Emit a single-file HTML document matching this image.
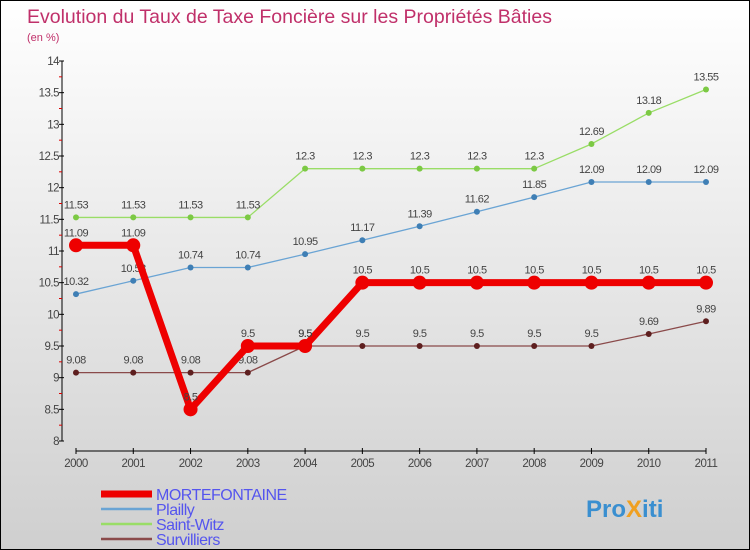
<!DOCTYPE html>
<html><head><meta charset="utf-8"><style>
body{margin:0;}
#c{width:750px;height:550px;position:relative;overflow:hidden;box-sizing:border-box;border:1px solid #000;background:linear-gradient(#ffffff,#cfcfcf);font-family:"Liberation Sans",sans-serif;}
svg text{font-family:"Liberation Sans",sans-serif;}
</style></head><body>
<div id="c">
<svg id="s" width="750" height="550">
<text x="26" y="22" font-size="19.5" fill="#c0306a">Evolution du Taux de Taxe Foncière sur les Propriétés Bâties</text>
<text x="26" y="40" font-size="11" fill="#c0306a">(en %)</text>
<g id="axes"></g><g id="series"></g><g id="legend"></g>
<text x="585" y="516" font-size="24" font-weight="bold" fill="#3a8fd0">Pro<tspan fill="#f0a020">X</tspan><tspan fill="#3a8fd0">iti</tspan></text>
</svg>
</div>
<script>
const years=["2000","2001","2002","2003","2004","2005","2006","2007","2008","2009","2010","2011"];
const yTicks=[8,8.5,9,9.5,10,10.5,11,11.5,12,12.5,13,13.5,14];
const names=["MORTEFONTAINE","Plailly","Saint-Witz","Survilliers"];
const mortefontaine=[11.09,11.09,8.5,9.5,9.5,10.5,10.5,10.5,10.5,10.5,10.5,10.5];
const plailly=[10.32,10.53,10.74,10.74,10.95,11.17,11.39,11.62,11.85,12.09,12.09,12.09];
const saintWitz=[11.53,11.53,11.53,11.53,12.3,12.3,12.3,12.3,12.3,12.69,13.18,13.55];
const survilliers=[9.08,9.08,9.08,9.08,9.5,9.5,9.5,9.5,9.5,9.5,9.69,9.89];
const NS="http://www.w3.org/2000/svg";
const X=i=>75+i*(630/(years.length-1));
const Y=v=>440-(v-8)*(380/6);
function mk(p,t,a){const e=document.createElementNS(NS,t);for(const k in a)e.setAttribute(k,a[k]);p.appendChild(e);return e;}
const ax=document.getElementById('axes');
let l=mk(ax,'line',{x1:61,y1:Y(14),x2:61,y2:Y(8),stroke:'#000'});


l=mk(ax,'line',{x1:75,y1:450,x2:705,y2:450,stroke:'#000'});


yTicks.forEach((v,i)=>{
  mk(ax,'line',{x1:58,y1:Y(v),x2:63,y2:Y(v),stroke:'#000'});
  if(i<yTicks.length-1)mk(ax,'line',{x1:58,y1:Y(v+0.25),x2:61,y2:Y(v+0.25),stroke:'#d00'});
  const t=mk(ax,'text',{x:58,y:Y(v)+4,'font-size':11.5,fill:'#444','text-anchor':'end','letter-spacing':'-0.5'});
  t.textContent=String(v);
  
  
});
years.forEach((y,i)=>{
  mk(ax,'line',{x1:X(i),y1:447,x2:X(i),y2:453,stroke:'#000'});
  const t=mk(ax,'text',{x:X(i),y:466,'font-size':11.5,fill:'#444','text-anchor':'middle','letter-spacing':'-0.5'});
  t.textContent=y;
  
  
});
const styles=[
 {d:mortefontaine,c:'#ee0000',m:'#ee0000',w:7,r:7,key:'mortefontaine'},
 {d:plailly,c:'#6aa4d4',m:'#3f7fb5',w:1.3,r:3,key:'plailly'},
 {d:saintWitz,c:'#99dd66',m:'#7cc944',w:1.3,r:3,key:'saint-witz'},
 {d:survilliers,c:'#8a4a4a',m:'#5e1f1f',w:1.3,r:3,key:'survilliers'}];
const sg=document.getElementById('series');
const order=[2,1,3,0];
order.forEach(k=>{const s=styles[k];
  const g=mk(sg,'g',{});
  
  
  const p=mk(g,'polyline',{points:s.d.map((v,i)=>X(i)+','+Y(v)).join(' '),fill:'none',stroke:s.c,'stroke-width':s.w,'stroke-linejoin':'round'});
  
  
  s.d.forEach((v,i)=>{
    const c=mk(g,'circle',{cx:X(i),cy:Y(v),r:s.r,fill:s.m});
    
    
    const t=mk(g,'text',{x:X(i),y:Y(v)-9,'font-size':11,fill:'#444','text-anchor':'middle','letter-spacing':'-0.5'});
    t.textContent=String(v);
    
    
  });
});
const lg=document.getElementById('legend');
names.forEach((n,i)=>{const s=styles[i];const y=493+i*15;
  const g=mk(lg,'g',{});
  
  
  mk(g,'line',{x1:100,y1:y,x2:151,y2:y,stroke:s.c,'stroke-width':i==0?7:2.5});
  const t=mk(g,'text',{x:155,y:y+6,'font-size':16,fill:'#5555ee','letter-spacing':'-0.5'});
  t.textContent=n;
});
</script>
</body></html>
